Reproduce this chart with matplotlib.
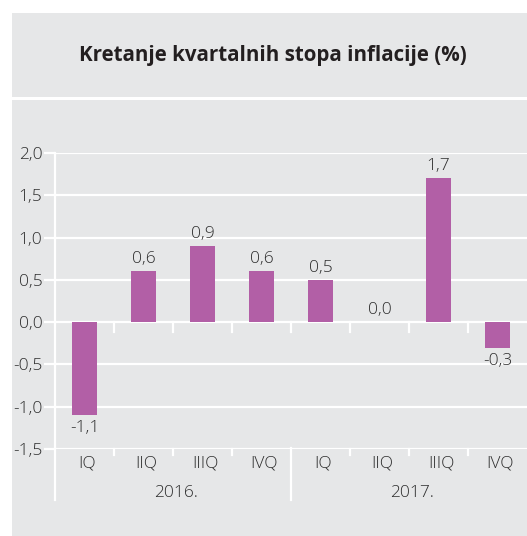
import numpy as np
import matplotlib.pyplot as plt
from matplotlib.patches import Rectangle

plt.rcParams['font.family'] = ['Open Sans', 'DejaVu Sans']

# podaci
kvartali = ['IQ', 'IIQ', 'IIIQ', 'IVQ', 'IQ', 'IIQ', 'IIIQ', 'IVQ']
godine = ['2016.', '2017.']
inflacija = [-1.1, 0.6, 0.9, 0.6, 0.5, 0.0, 1.7, -0.3]
y_ticks = [-1.5, -1.0, -0.5, 0.0, 0.5, 1.0, 1.5, 2.0]

W, H = 527, 536
siva = '#e6e7e8'
boja = '#b25fa6'
tekst = '#2e2e2e'
fs = 12.5

fig = plt.figure(figsize=(W / 100, H / 100), dpi=100)
fig.patch.set_facecolor('white')

# sivi paneli (naslov i graf)
fig.add_artist(Rectangle((12 / W, 1 - 97 / H), 1, 84 / H, transform=fig.transFigure,
                         facecolor=siva, edgecolor='none', zorder=0))
fig.add_artist(Rectangle((12 / W, 0), 1, 1 - 100 / H, transform=fig.transFigure,
                         facecolor=siva, edgecolor='none', zorder=0))
fig.text(273 / W, 1 - 56 / H, 'Kretanje kvartalnih stopa inflacije (%)',
         ha='center', va='center', fontsize=14.8, fontweight='bold', color='#231f20')

ax = fig.add_axes([55 / W, 1 - 449 / H, 1 - 55 / W, (449 - 153) / H])
ax.set_facecolor('none')
x = np.arange(len(inflacija))
ax.set_xlim(-0.5, 7.5)
ax.set_ylim(-1.5, 2.0)

for v in y_ticks:
    ax.axhline(v, color='white', lw=1.6, zorder=1)

ax.bar(x, inflacija, width=0.41, color=boja, zorder=2)

for xi, v in zip(x, inflacija):
    lab = ('%.1f' % v).replace('.', ',')
    if v < 0:
        ax.text(xi, v - 0.06, lab, ha='center', va='top', fontsize=fs,
                fontweight='light', color=tekst)
    else:
        ax.text(xi, v + 0.05, lab, ha='center', va='bottom', fontsize=fs,
                fontweight='light', color=tekst)

for s in ax.spines.values():
    s.set_visible(False)

ax.set_yticks(y_ticks)
ax.set_yticklabels([('%.1f' % v).replace('.', ',') for v in y_ticks],
                   fontsize=fs, fontweight='light', color=tekst)
ax.tick_params(axis='y', color='white', width=1.6, length=8, pad=1)
ax.set_xticks([])

# kvačice na nultoj i donjoj liniji
for b in np.arange(0.5, 7.5, 1.0):
    ax.plot([b, b], [0, -0.12], color='white', lw=1.6, zorder=1)
    if b != 3.5:
        ax.plot([b, b], [-1.5, -1.57], color='white', lw=1.6, zorder=1, clip_on=False)

trans = ax.get_xaxis_transform()
# lijeva os i razdjelnik godina
ax.plot([-0.5, -0.5], [1.0, -51 / 296], color='white', lw=1.6, transform=trans, clip_on=False)
ax.plot([3.5, 3.5], [0.005, -51 / 296], color='white', lw=1.6, transform=trans, clip_on=False)

for xi, q in zip(x, kvartali):
    ax.text(xi + 0.05, -14 / 296, q, ha='center', va='center', fontsize=fs,
            fontweight='light', color=tekst, transform=trans)
for i, g in enumerate(godine):
    ax.text(1.55 + 4 * i, -44 / 296, g, ha='center', va='center', fontsize=fs,
            fontweight='light', color=tekst, transform=trans)

fig.savefig('out.png', dpi=100)
